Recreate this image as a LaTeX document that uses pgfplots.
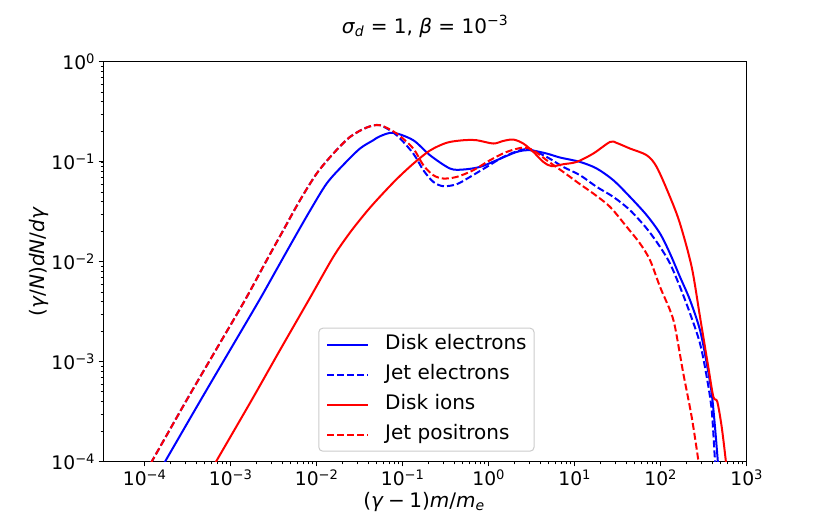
\documentclass[border=0pt]{standalone}
\usepackage{fontspec}
\setmainfont{DejaVu Sans}
\usepackage{pgfplots}
\pgfplotsset{compat=1.18}
\begin{document}
\begin{tikzpicture}[x=1pt,y=1pt]
\path[use as bounding box] (0,0) rectangle (830,519);
\begin{axis}[
 at={(103.3pt,57.3pt)}, anchor=south west,
 scale only axis, width=643.4pt, height=399.7pt,
 xmode=log, ymode=log,
 xmin=3.30e-5, xmax=1000, ymin=1e-4, ymax=1,
 xtick={1e-4,1e-3,1e-2,1e-1,1,10,100,1000},
 xticklabels={10\textsuperscript{−4},10\textsuperscript{−3},10\textsuperscript{−2},10\textsuperscript{−1},10\textsuperscript{0},10\textsuperscript{1},10\textsuperscript{2},10\textsuperscript{3}},
 ytick={1e-4,1e-3,1e-2,1e-1,1},
 yticklabels={10\textsuperscript{−4},10\textsuperscript{−3},10\textsuperscript{−2},10\textsuperscript{−1},10\textsuperscript{0}},
 tick align=outside, tick pos=left,
 major tick length=4.7pt, minor tick length=2.7pt,
 major tick style={black, line width=1pt},
 minor tick style={black, line width=0.8pt},
 axis line style={line width=1pt},
 tick label style={font=\fontsize{18.7}{22}\selectfont},
 label style={font=\fontsize{20}{24}\selectfont},
 xlabel={(\textit{γ}\hspace{0.22em}−\hspace{0.22em}1)\textit{m}/\textit{m}\textsubscript{\textit{e}}},
 ylabel={(\textit{γ}/\textit{N})\textit{dN}/\textit{dγ}},
 xlabel style={at={(axis description cs:0.4984,-0.1000)}, anchor=center},
 ylabel style={at={(axis description cs:-0.0999,0.5)}, anchor=center},
 title={\textit{σ}\textsubscript{\textit{d}} = 1, \textit{β} = 10\textsuperscript{−3}},
 title style={at={(axis description cs:0.5,1.0740)}, anchor=center, font=\fontsize{20}{24}\selectfont},
 legend cell align=left,
 legend image code/.code={\draw[#1] (0pt,0pt) -- (41pt,0pt);},
 legend style={
   at={(0.3342,0.3353)}, anchor=north west,
   draw=black!20, line width=1pt, rounded corners=4pt,
   fill=white, fill opacity=0.8, text opacity=1,
   font=\fontsize{20}{24}\selectfont,
   inner xsep=7.4pt, inner ysep=6.75pt,
   row sep=10.5pt,
   nodes={inner sep=0pt, text height=15pt, text depth=4.5pt},
   /tikz/every odd column/.append style={column sep=16pt},
 },
]
\addplot[blue, line width=2pt, smooth] coordinates {
(1.476e-4,7.94e-5) (1.722e-4,1e-4) (4.477e-4,4.140e-4) (9.817e-4,1.309e-3) (2.153e-3,4.140e-3)
(3.428e-3,8.433e-3) (5.346e-3,1.663e-2) (8.356e-3,3.251e-2) (1.306e-2,6.081e-2) (2.037e-2,9.333e-2)
(3.184e-2,1.361e-1) (4.550e-2,1.648e-1) (5.445e-2,1.807e-1) (7.780e-2,1.959e-1) (1.327e-1,1.648e-1)
(2.075e-1,1.167e-1) (3.548e-1,8.590e-2) (5.070e-1,8.395e-2) (7.925e-1,8.913e-2) (1.239,1.040e-1)
(2.118,1.259e-1) (3.020,1.309e-1) (4.721,1.213e-1) (6.745,1.107e-1) (11.53,1.0e-1) (18.03,8.59e-2)
(28.12,6.561e-2) (43.95,4.467e-2) (68.71,2.931e-2) (98.2,1.923e-2) (128.2,1.213e-2) (167.5,7.079e-3)
(219.3,4.140e-3) (286.4,2.075e-3) (342.8,9.638e-4) (391.7,4.831e-4) (427.6,2.239e-4) (460.3,1.040e-4)
(469.9,7.94e-5)
};
\addlegendentry{Disk electrons}
\addplot[blue, line width=2pt, dash pattern=on 7pt off 3pt, smooth] coordinates {
(1.033e-4,7.94e-5) (1.205e-4,1e-4) (3.076e-4,4.140e-4) (6.714e-4,1.309e-3) (1.466e-3,4.140e-3)
(2.624e-3,1.040e-2) (4.093e-3,2.075e-2) (6.397e-3,4.140e-2) (1.0e-2,7.656e-2) (1.560e-2,1.213e-1)
(2.438e-2,1.778e-1) (3.811e-2,2.208e-1) (5.445e-2,2.328e-1) (8.511e-2,1.849e-1) (1.327e-1,1.213e-1)
(1.738e-1,8.260e-2) (2.270e-1,6.310e-2) (2.965e-1,5.715e-2) (4.246e-1,5.984e-2) (6.067e-1,7.079e-2)
(9.484e-1,8.913e-2) (1.479,1.122e-1) (2.312,1.309e-1) (3.020,1.330e-1) (4.721,1.122e-1) (7.362,8.913e-2)
(11.53,7.362e-2) (18.03,5.623e-2) (28.12,4.467e-2) (43.95,3.289e-2) (68.71,2.158e-2) (98.2,1.413e-2)
(128.2,9.638e-3) (167.5,5.623e-3) (219.3,3.048e-3) (286.4,1.528e-3) (342.8,7.079e-4) (391.7,3.289e-4)
(427.6,1.040e-4) (439.5,7.94e-5)
};
\addlegendentry{Jet electrons}
\addplot[red, line width=2pt, smooth] coordinates {
(5.781e-4,7.94e-5) (6.745e-4,1e-4) (1.754e-3,4.140e-4) (3.741e-3,1.309e-3) (8.356e-3,4.365e-3)
(1.560e-2,1.122e-2) (2.438e-2,1.963e-2) (3.811e-2,3.184e-2) (5.445e-2,4.498e-2) (8.511e-2,6.730e-2)
(1.327e-1,9.594e-2) (2.075e-1,1.300e-1) (3.251e-1,1.556e-1) (5.070e-1,1.648e-1) (7.244e-1,1.648e-1)
(1.130,1.528e-1) (1.479,1.622e-1) (1.932,1.675e-1) (2.523,1.528e-1) (3.304,1.259e-1) (4.315,1.0e-1)
(5.408,9.057e-2) (7.362,9.484e-2) (10.54,1.0e-1) (16.44,1.213e-1) (25.76,1.585e-1) (30.76,1.549e-1)
(43.95,1.361e-1) (68.71,1.167e-1) (89.74,8.913e-2) (128.2,4.467e-2) (167.5,2.421e-2) (229.1,8.913e-3)
(286.4,2.818e-3) (357.3,8.913e-4) (409.3,4.467e-4) (455.0,3.981e-4) (511.7,2.239e-4) (570.2,1.040e-4)
(583.4,7.94e-5)
};
\addlegendentry{Disk ions}
\addplot[red, line width=2pt, dash pattern=on 7pt off 3pt, smooth] coordinates {
(1.033e-4,7.94e-5) (1.205e-4,1e-4) (3.076e-4,4.140e-4) (6.714e-4,1.309e-3) (1.466e-3,4.140e-3)
(2.624e-3,1.040e-2) (4.093e-3,2.075e-2) (6.397e-3,4.140e-2) (1.0e-2,7.656e-2) (1.560e-2,1.213e-1)
(2.438e-2,1.778e-1) (3.811e-2,2.208e-1) (5.445e-2,2.328e-1) (8.511e-2,1.923e-1) (1.327e-1,1.361e-1)
(1.738e-1,9.268e-2) (2.270e-1,7.362e-2) (2.965e-1,6.823e-2) (4.246e-1,7.079e-2) (6.622e-1,8.260e-2)
(1.035,1.040e-1) (1.618,1.259e-1) (2.523,1.393e-1) (3.304,1.309e-1) (4.721,1.040e-1) (7.362,7.943e-2)
(11.53,5.984e-2) (16.44,4.831e-2) (25.76,3.548e-2) (40.27,2.239e-2) (57.41,1.528e-2) (75.16,1.040e-2)
(98.2,5.623e-3) (128.2,3.289e-3) (146.6,2.239e-3) (183.2,7.656e-4) (229.1,2.818e-4) (273.5,1.040e-4)
(282.5,7.94e-5)
};
\addlegendentry{Jet positrons}
\end{axis}
\end{tikzpicture}
\end{document}
